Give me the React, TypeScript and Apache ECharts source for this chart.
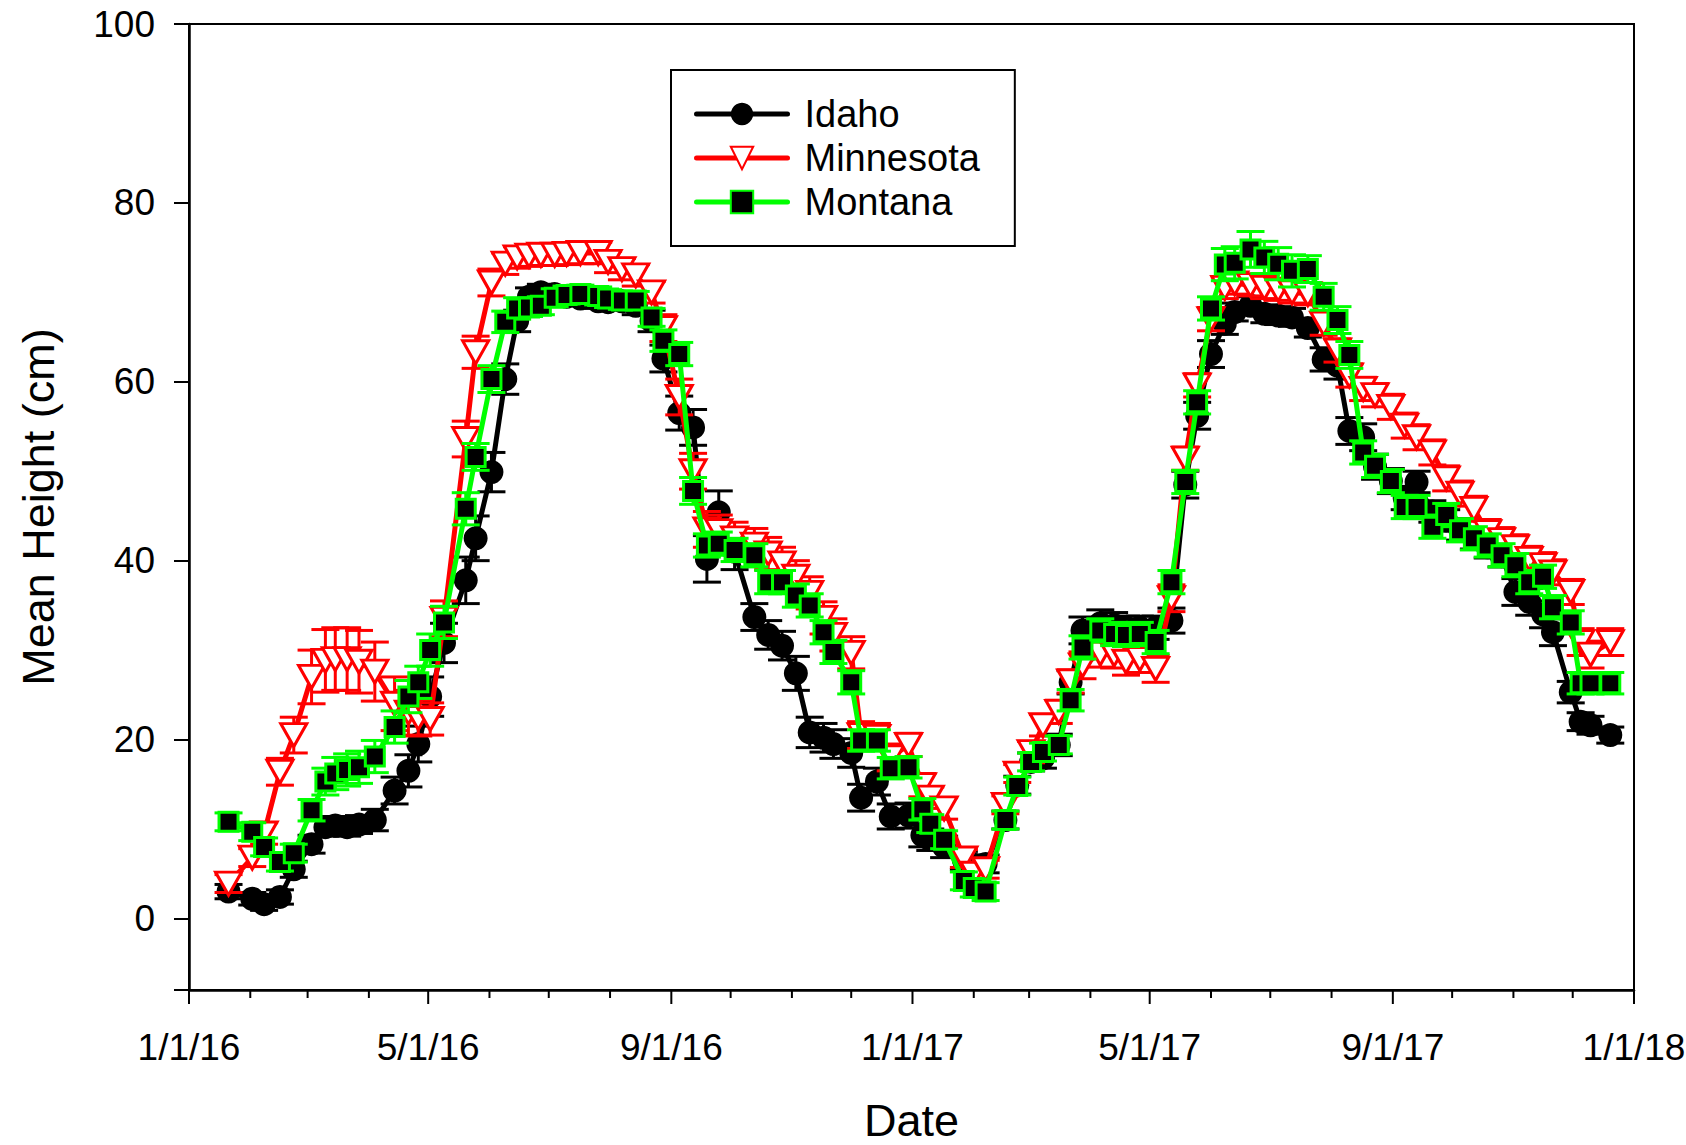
import React, { useEffect, useRef } from "react";
import * as echarts from "echarts";

// Sampling dates (shared by the three seed sources)
const DATES = [
  "2016-01-21", "2016-02-02", "2016-02-08", "2016-02-16", "2016-02-23",
  "2016-03-03", "2016-03-10", "2016-03-15", "2016-03-21", "2016-03-27",
  "2016-04-04", "2016-04-14", "2016-04-21", "2016-04-26", "2016-05-02",
  "2016-05-09", "2016-05-20", "2016-05-25", "2016-06-02", "2016-06-09",
  "2016-06-15", "2016-06-21", "2016-06-27", "2016-07-04", "2016-07-10",
  "2016-07-17", "2016-07-26", "2016-07-31", "2016-08-07", "2016-08-14",
  "2016-08-22", "2016-08-28", "2016-09-05", "2016-09-12", "2016-09-19",
  "2016-09-25", "2016-10-03", "2016-10-13", "2016-10-20", "2016-10-27",
  "2016-11-03", "2016-11-10", "2016-11-17", "2016-11-22", "2016-12-01",
  "2016-12-06", "2016-12-14", "2016-12-21", "2016-12-30", "2017-01-06",
  "2017-01-10", "2017-01-17", "2017-01-27", "2017-02-01", "2017-02-07",
  "2017-02-17", "2017-02-23", "2017-03-02", "2017-03-08", "2017-03-16",
  "2017-03-22", "2017-03-28", "2017-04-06", "2017-04-13", "2017-04-19",
  "2017-04-26", "2017-05-04", "2017-05-12", "2017-05-19", "2017-05-25",
  "2017-06-01", "2017-06-08", "2017-06-13", "2017-06-21", "2017-06-28",
  "2017-07-05", "2017-07-12", "2017-07-20", "2017-07-28", "2017-08-04",
  "2017-08-10", "2017-08-17", "2017-08-23", "2017-08-31", "2017-09-07",
  "2017-09-13", "2017-09-21", "2017-09-28", "2017-10-05", "2017-10-12",
  "2017-10-19", "2017-10-26", "2017-11-02", "2017-11-09", "2017-11-16",
  "2017-11-21", "2017-11-30", "2017-12-05", "2017-12-10", "2017-12-20",
];

// Mean height (cm) and standard error per source
const IDAHO = [
  3.0, 2.2, 1.6, 2.4, 5.5, 8.3, 10.2, 10.4, 10.2, 10.5,
  11.0, 14.3, 16.5, 19.5, 24.8, 30.8, 37.8, 42.5, 49.9, 60.3,
  66.8, 69.5, 70.0, 69.8, 69.5, 69.3, 69.0, 68.9, 69.0, 68.5,
  66.8, 62.6, 56.5, 54.9, 40.2, 45.4, 41.0, 33.7, 31.7, 30.5,
  27.4, 20.8, 20.2, 19.5, 18.5, 13.5, 15.3, 11.4, 11.5, 9.3,
  8.8, 8.0, 6.5, 6.0, 6.1, 11.0, 14.9, 17.5, 17.9, 19.4,
  26.4, 32.2, 33.0, 32.8, 32.5, 32.5, 32.5, 33.3, 48.5, 56.2,
  63.1, 66.5, 67.8, 68.5, 67.6, 67.4, 67.2, 66.0, 62.5, 61.8,
  54.5, 53.8, 50.5, 48.9, 47.0, 48.8, 45.5, 44.5, 43.5, 42.5,
  41.5, 40.5, 36.5, 35.4, 34.0, 32.0, 25.3, 22.0, 21.6, 20.5,
];
const IDAHO_SE = [
  0.8, 0.7, 0.7, 0.8, 0.9, 1.0, 1.0, 1.0, 1.0, 1.0,
  1.2, 1.5, 1.8, 2.0, 2.2, 2.2, 2.6, 2.5, 2.2, 1.7,
  1.2, 1.0, 0.9, 0.8, 0.8, 0.8, 0.8, 0.8, 0.9, 1.0,
  1.2, 1.5, 1.9, 2.0, 2.6, 2.4, 2.0, 1.5, 1.6, 1.6,
  1.9, 1.7, 1.6, 1.6, 1.6, 1.5, 1.5, 1.4, 1.4, 1.3,
  1.2, 1.2, 1.0, 1.0, 1.0, 1.0, 1.0, 1.0, 1.1, 1.2,
  1.3, 1.5, 1.5, 1.4, 1.3, 1.3, 1.3, 1.4, 1.5, 1.5,
  1.5, 1.2, 1.0, 1.0, 1.0, 1.0, 1.0, 1.0, 1.3, 1.5,
  1.5, 1.5, 1.4, 1.4, 1.3, 1.2, 1.2, 1.2, 1.2, 1.2,
  1.2, 1.2, 1.5, 1.5, 1.5, 1.5, 1.2, 1.0, 1.0, 0.9,
];

const MINNESOTA = [
  3.9, 6.8, 9.5, 16.4, 20.5, 27.0, 28.8, 29.0, 29.0, 28.7,
  27.6, 24.0, 23.0, 22.4, 22.3, 33.5, 53.6, 63.3, 71.1, 73.2,
  73.9, 74.1, 74.2, 74.2, 74.3, 74.4, 74.4, 73.4, 72.6, 71.9,
  70.0, 66.0, 58.3, 50.0, 43.5, 43.3, 42.5, 41.8, 40.8, 39.7,
  38.2, 36.4, 33.6, 31.7, 29.7, 20.5, 20.3, 18.0, 19.4, 14.9,
  13.5, 12.3, 6.7, 5.0, 5.5, 12.7, 16.2, 18.6, 21.6, 23.1,
  26.5, 28.3, 29.6, 29.5, 28.7, 29.0, 27.9, 35.8, 51.4, 59.6,
  67.0, 70.5, 71.0, 70.8, 70.5, 70.3, 70.0, 69.8, 66.5, 63.5,
  60.7, 59.2, 58.5, 57.2, 55.1, 53.8, 52.1, 49.2, 47.5, 45.8,
  43.2, 42.3, 41.5, 40.2, 39.5, 38.7, 36.5, 30.9, 29.5, 30.9,
];
const MINNESOTA_SE = [
  1.0, 1.0, 1.2, 1.5, 2.0, 3.0, 3.5, 3.5, 3.5, 3.5,
  3.3, 3.0, 2.5, 2.0, 1.8, 2.0, 2.0, 1.8, 1.5, 1.2,
  1.2, 1.2, 1.2, 1.2, 1.2, 1.2, 1.2, 1.2, 1.2, 1.2,
  1.2, 1.5, 2.0, 2.0, 2.0, 1.8, 1.8, 1.8, 1.8, 1.8,
  1.8, 1.8, 1.8, 1.8, 1.8, 1.5, 1.5, 1.5, 1.3, 1.3,
  1.2, 1.2, 1.0, 1.0, 1.0, 1.0, 1.0, 1.2, 1.2, 1.3,
  1.3, 1.5, 1.5, 1.5, 1.5, 1.5, 1.5, 1.5, 1.3, 1.3,
  1.3, 1.2, 1.2, 1.2, 1.2, 1.2, 1.2, 1.2, 1.3, 1.3,
  1.3, 1.3, 1.3, 1.4, 1.4, 1.4, 1.4, 1.4, 1.4, 1.4,
  1.4, 1.4, 1.4, 1.4, 1.4, 1.4, 1.4, 1.5, 1.5, 1.5,
];

const MONTANA = [
  10.8, 9.7, 8.0, 6.3, 7.3, 12.1, 15.3, 16.2, 16.6, 16.9,
  18.1, 21.4, 24.8, 26.4, 30.0, 33.1, 45.8, 51.6, 60.3, 66.7,
  68.2, 68.3, 68.5, 69.4, 69.7, 69.8, 69.6, 69.3, 69.1, 69.1,
  67.2, 64.6, 63.1, 47.8, 41.7, 41.9, 41.2, 40.6, 37.6, 37.6,
  36.1, 35.0, 32.0, 29.8, 26.4, 19.9, 19.9, 16.8, 16.9, 12.2,
  10.6, 8.8, 4.2, 3.4, 3.0, 11.0, 14.8, 17.5, 18.6, 19.4,
  24.4, 30.3, 32.2, 31.8, 31.7, 31.8, 30.9, 37.6, 48.8, 57.7,
  68.2, 73.1, 73.3, 74.8, 73.9, 73.2, 72.4, 72.6, 69.5, 66.9,
  63.0, 52.1, 50.6, 48.9, 46.0, 46.0, 43.8, 45.1, 43.4, 42.5,
  41.7, 40.6, 39.5, 37.6, 38.2, 34.8, 33.1, 26.3, 26.3, 26.3,
];
const MONTANA_SE = [
  1.0, 1.0, 1.0, 1.0, 1.0, 1.2, 1.5, 1.8, 1.8, 1.8,
  1.8, 1.8, 1.8, 1.8, 1.8, 1.8, 1.8, 1.5, 1.5, 1.2,
  1.2, 1.0, 1.0, 1.0, 1.0, 1.0, 1.0, 1.0, 1.0, 1.0,
  1.0, 1.2, 1.3, 1.5, 1.3, 1.3, 1.3, 1.3, 1.3, 1.3,
  1.3, 1.3, 1.3, 1.3, 1.3, 1.2, 1.2, 1.2, 1.2, 1.2,
  1.0, 1.0, 1.0, 1.0, 1.0, 1.0, 1.0, 1.0, 1.0, 1.0,
  1.2, 1.3, 1.3, 1.3, 1.3, 1.3, 1.3, 1.3, 1.3, 1.3,
  1.3, 1.8, 1.8, 2.0, 1.8, 1.8, 1.8, 1.5, 1.5, 1.5,
  1.5, 1.3, 1.3, 1.3, 1.3, 1.3, 1.3, 1.3, 1.3, 1.3,
  1.3, 1.3, 1.3, 1.3, 1.3, 1.3, 1.3, 1.2, 1.2, 1.2,
];

// Axis ticks: monthly minor ticks, labelled major ticks every four months
const X_START = "2016-01-01";
const X_END = "2018-01-01";
const X_MAJOR_DATES = ["2016-01-01", "2016-05-01", "2016-09-01", "2017-01-01", "2017-05-01", "2017-09-01", "2018-01-01"];
const X_MAJOR_LABELS = ["1/1/16", "5/1/16", "9/1/16", "1/1/17", "5/1/17", "9/1/17", "1/1/18"];
const Y_MIN = -8;
const Y_MAX = 100;

const FONT = "'Liberation Sans', Arial, Helvetica, sans-serif";
const CAP_WIDTH = 28;

const toTime = (iso: string): number => {
  const [y, m, d] = iso.split("-").map(Number);
  return Date.UTC(y, m - 1, d);
};

const monthTicks = (): number[] => {
  const out: number[] = [];
  const start = new Date(toTime(X_START));
  const end = toTime(X_END);
  let y = start.getUTCFullYear();
  let m = start.getUTCMonth();
  while (Date.UTC(y, m, 1) <= end) {
    out.push(Date.UTC(y, m, 1));
    m += 1;
    if (m > 11) { m = 0; y += 1; }
  }
  return out;
};

const errorBars = (name: string, color: string, values: number[], errs: number[], z: number) => ({
  type: "custom",
  name: name + " SE",
  z,
  clip: false,
  silent: true,
  encode: { x: 0, y: [1, 2] },
  data: DATES.map((d, i) => [toTime(d), values[i] - errs[i], values[i] + errs[i]]),
  renderItem: (_params: any, api: any) => {
    const t = api.value(0);
    const lo = api.coord([t, api.value(1)]);
    const hi = api.coord([t, api.value(2)]);
    const hw = CAP_WIDTH / 2;
    const style = { stroke: color, lineWidth: 3 };
    return {
      type: "group",
      children: [
        { type: "line", shape: { x1: lo[0], y1: lo[1], x2: hi[0], y2: hi[1] }, style },
        { type: "line", shape: { x1: lo[0] - hw, y1: lo[1], x2: lo[0] + hw, y2: lo[1] }, style },
        { type: "line", shape: { x1: hi[0] - hw, y1: hi[1], x2: hi[0] + hw, y2: hi[1] }, style },
      ],
    };
  },
});

const dateAxisTicks = () => {
  const majors = X_MAJOR_DATES.map(toTime);
  return {
    type: "custom",
    name: "date ticks",
    z: 10,
    clip: false,
    silent: true,
    encode: { x: 0, y: 1 },
    data: monthTicks().map((t) => [t, Y_MIN]),
    renderItem: (_params: any, api: any) => {
      const t = api.value(0);
      const p = api.coord([t, Y_MIN]);
      const idx = majors.indexOf(t);
      const major = idx >= 0;
      const children: any[] = [
        {
          type: "line",
          shape: { x1: p[0], y1: p[1], x2: p[0], y2: p[1] + (major ? 14 : 8) },
          style: { stroke: "#000", lineWidth: 2 },
        },
      ];
      if (major) {
        children.push({
          type: "text",
          x: p[0],
          y: p[1] + 57,
          style: {
            text: X_MAJOR_LABELS[idx],
            fill: "#000",
            font: `37px ${FONT}`,
            align: "center",
            verticalAlign: "middle",
            textAlign: "center",
            textVerticalAlign: "middle",
          },
        });
      }
      return { type: "group", children };
    },
  };
};

export default function App() {
  const ref = useRef<HTMLDivElement>(null);

  useEffect(() => {
    if (!ref.current) return;
    const chart = echarts.init(ref.current, undefined, { renderer: "svg" });
    const pts = (vals: number[]) => DATES.map((d, i) => [toTime(d), vals[i]]);

    chart.setOption({
      animation: false,
      backgroundColor: "#fff",
      grid: {
        left: 189,
        top: 24,
        right: 52,
        bottom: 155,
        show: true,
        borderColor: "#000",
        borderWidth: 2,
        backgroundColor: "transparent",
        outerBoundsMode: "none",
        containLabel: false,
      },
      legend: {
        data: ["Idaho", "Minnesota", "Montana"],
        orient: "vertical",
        left: 671,
        top: 70,
        itemWidth: 91,
        itemHeight: 28,
        itemGap: 0,
        padding: [22, 35, 22, 23],
        borderColor: "#000",
        borderWidth: 2,
        backgroundColor: "#fff",
        selectedMode: false,
        z: 20,
        lineStyle: { width: 5, cap: "round" },
        textStyle: {
          fontSize: 38,
          fontFamily: FONT,
          color: "#000",
          lineHeight: 44,
          padding: [0, 0, 0, 12],
        },
      },
      xAxis: {
        type: "value",
        min: toTime(X_START),
        max: toTime(X_END),
        name: "Date",
        nameLocation: "middle",
        nameGap: 108,
        nameTextStyle: { fontSize: 45, fontFamily: FONT, color: "#000" },
        axisLine: { show: true, onZero: false, lineStyle: { color: "#000", width: 2.5 } },
        axisTick: { show: false },
        axisLabel: { show: false },
        splitLine: { show: false },
      },
      yAxis: {
        type: "value",
        min: Y_MIN,
        max: Y_MAX,
        splitNumber: 5,
        name: "Mean Height (cm)",
        nameLocation: "middle",
        nameGap: 128,
        nameTextStyle: { fontSize: 45, fontFamily: FONT, color: "#000" },
        axisLine: { show: true, onZero: false, lineStyle: { color: "#000", width: 2.5 } },
        axisTick: { show: true, inside: false, length: 15, lineStyle: { color: "#000", width: 2 } },
        axisLabel: {
          show: true,
          margin: 34,
          fontSize: 37,
          fontFamily: FONT,
          color: "#000",
          formatter: (v: number) => (v % 20 === 0 ? String(v) : ""),
        },
        splitLine: { show: false },
      },
      series: [
        errorBars("Idaho", "#000000", IDAHO, IDAHO_SE, 3),
        {
          type: "line",
          name: "Idaho",
          z: 4,
          data: pts(IDAHO),
          symbol: "circle",
          symbolSize: 24,
          lineStyle: { color: "#000000", width: 5 },
          itemStyle: { color: "#000000" },
          emphasis: { disabled: true },
        },
        errorBars("Minnesota", "#ff0000", MINNESOTA, MINNESOTA_SE, 5),
        {
          type: "line",
          name: "Minnesota",
          z: 6,
          data: pts(MINNESOTA),
          symbol: "triangle",
          symbolRotate: 180,
          symbolSize: [26, 23],
          lineStyle: { color: "#ff0000", width: 5 },
          itemStyle: { color: "#ffffff", borderColor: "#ff0000", borderWidth: 3 },
          emphasis: { disabled: true },
        },
        errorBars("Montana", "#00ff00", MONTANA, MONTANA_SE, 7),
        {
          type: "line",
          name: "Montana",
          z: 8,
          data: pts(MONTANA),
          symbol: "rect",
          symbolSize: 19,
          lineStyle: { color: "#00ff00", width: 5 },
          itemStyle: { color: "#000000", borderColor: "#00ff00", borderWidth: 3 },
          emphasis: { disabled: true },
        },
        dateAxisTicks(),
      ],
    });

    return () => chart.dispose();
  }, []);

  return (
    <div
      ref={ref}
      style={{ position: "absolute", left: 0, top: 0, width: 1686, height: 1145, background: "#fff" }}
    />
  );
}
